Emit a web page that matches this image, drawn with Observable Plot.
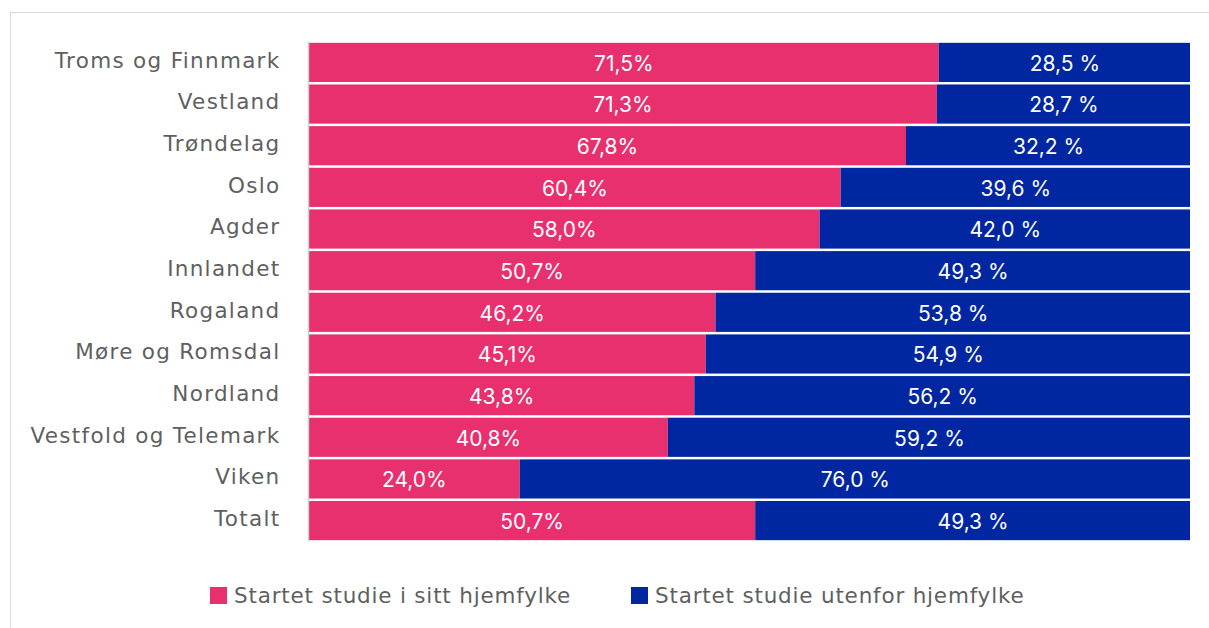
<!DOCTYPE html>
<html>
<head>
<meta charset="utf-8">
<script src="https://cdn.jsdelivr.net/npm/d3@7"></script>
<script src="https://cdn.jsdelivr.net/npm/@observablehq/plot@0.6"></script>
<style>
  html, body { margin: 0; padding: 0; background: #fff; }
  body { width: 1209px; height: 628px; position: relative; overflow: hidden; font-family: "DejaVu Sans", sans-serif; }
  #frame { position: absolute; left: 10px; top: 12px; width: 1300px; height: 700px; border: 1px solid #d9d9d9; box-sizing: border-box; }
  #chart { position: absolute; left: 0; top: 0; }
  #chart g[aria-label="y-axis tick label"] text { font-family: "DejaVu Sans", sans-serif; letter-spacing: 1.3px; }
  #chart g[aria-label="text"] text { font-family: Inter, sans-serif; }
  #legend { position: absolute; top: 580px; left: 0; width: 1209px; height: 30px; font-size: 21.5px; letter-spacing: 0.8px; color: #5f5f5f; }
  .item { position: absolute; top: 0; display: flex; align-items: center; height: 30px; }
  .sw { width: 17px; height: 17px; margin-right: 7px; }
</style>
</head>
<body>
<div id="frame"></div>
<div id="chart"></div>
<div id="legend"></div>
<script>
const regions = ["Troms og Finnmark", "Vestland", "Trøndelag", "Oslo", "Agder", "Innlandet", "Rogaland", "Møre og Romsdal", "Nordland", "Vestfold og Telemark", "Viken", "Totalt"];
const homeShare = [71.5, 71.3, 67.8, 60.4, 58.0, 50.7, 46.2, 45.1, 43.8, 40.8, 24.0, 50.7];
const outsideShare = [28.5, 28.7, 32.2, 39.6, 42.0, 49.3, 53.8, 54.9, 56.2, 59.2, 76.0, 49.3];
const seriesNames = ["Startet studie i sitt hjemfylke", "Startet studie utenfor hjemfylke"];
const seriesColors = ["#e8306f", "#0027a1"];

const rows = [];
regions.forEach((r, i) => {
  rows.push({region: r, series: seriesNames[0], value: homeShare[i], label: homeShare[i].toFixed(1).replace(".", ",") + "%"});
  rows.push({region: r, series: seriesNames[1], value: outsideShare[i], label: outsideShare[i].toFixed(1).replace(".", ",") + " %"});
});

const chart = Plot.plot({
  width: 1209,
  height: 560,
  marginLeft: 308,
  marginRight: 19,
  marginTop: 42,
  marginBottom: 19,
  style: {fontFamily: "DejaVu Sans, sans-serif", background: "transparent"},
  x: {domain: [0, 100], axis: null},
  y: {domain: regions, paddingInner: 0.06, paddingOuter: 0.02, round: false, label: null},
  color: {domain: seriesNames, range: seriesColors},
  marks: [
    Plot.barX(rows, Plot.stackX({x: "value", y: "region", fill: "series", z: "series"})),
    Plot.textX(rows, Plot.stackX({x: "value", y: "region", z: "series", text: "label", fill: "white", fontSize: 21, dy: 1})),
    Plot.ruleX([0], {stroke: "#d0d0d0", strokeWidth: 1.5}),
    Plot.axisY({tickSize: 0, tickPadding: 28, fontSize: 21.5, fill: "#5f5f5f", label: null, dy: -2})
  ]
});
document.getElementById("chart").appendChild(chart);

const legend = document.getElementById("legend");
const lefts = [210, 631];
seriesNames.forEach((s, i) => {
  const it = document.createElement("div");
  it.className = "item";
  it.style.left = lefts[i] + "px";
  const sw = document.createElement("div");
  sw.className = "sw";
  sw.style.background = seriesColors[i];
  const t = document.createElement("span");
  t.textContent = s;
  it.appendChild(sw);
  it.appendChild(t);
  legend.appendChild(it);
});
</script>
</body>
</html>
